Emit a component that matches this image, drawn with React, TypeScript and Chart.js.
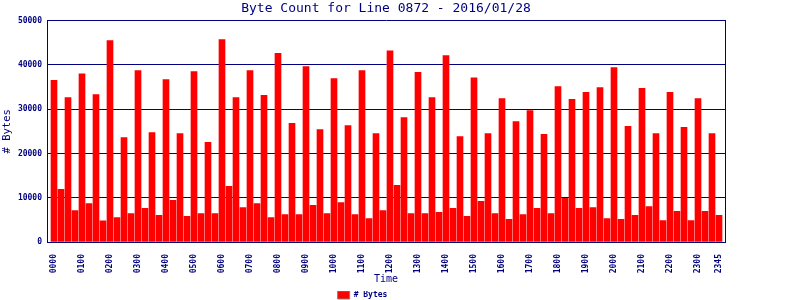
import { useEffect, useRef } from "react";
import { Chart, registerables } from "chart.js";

Chart.register(...registerables);

const TITLE = "Byte Count for Line 0872 - 2016/01/28";
const SERIES_NAME = "# Bytes";
const X_TITLE = "Time";
const Y_TITLE = "# Bytes";

const HOURS = [
  "00", "01", "02", "03", "04", "05", "06", "07", "08", "09", "10", "11",
  "12", "13", "14", "15", "16", "17", "18", "19", "20", "21", "22", "23",
];
const QUARTERS = ["00", "15", "30", "45"];
const TIME_LABELS = HOURS.flatMap((h) => QUARTERS.map((q) => h + q));

// one row per hour: :00, :15, :30, :45
const BYTES = [
  36500, 11900, 32600, 7100,
  38000, 8700, 33300, 4800,
  45500, 5500, 23600, 6400,
  38700, 7600, 24700, 6000,
  36700, 9400, 24500, 5800,
  38500, 6400, 22500, 6400,
  45700, 12600, 32600, 7800,
  38700, 8700, 33100, 5500,
  42600, 6200, 26800, 6200,
  39600, 8300, 25400, 6400,
  36900, 8900, 26300, 6200,
  38700, 5300, 24500, 7100,
  43200, 12800, 28100, 6400,
  38300, 6400, 32600, 6700,
  42100, 7600, 23800, 5800,
  37100, 9200, 24500, 6400,
  32400, 5100, 27200, 6200,
  29700, 7600, 24300, 6400,
  35100, 9850, 32200, 7600,
  33800, 7800, 34900, 5300,
  39400, 5100, 26100, 6000,
  34700, 8000, 24500, 4850,
  33800, 6900, 25900, 4850,
  32400, 6900, 24500, 6000,
];

// labelled ticks: every full hour, plus the last quarter
const X_TICK_INDEX = [
  0, 4, 8, 12, 16, 20, 24, 28, 32, 36, 40, 44,
  48, 52, 56, 60, 64, 68, 72, 76, 80, 84, 88, 92, 95,
];

const Y_MIN = 0;
const Y_MAX = 50000;
const Y_STEP = 10000;

const NAVY = "#000080";
const RED = "#ff0000";
const MONO = "'DejaVu Sans Mono', monospace";

export default function App() {
  const canvasRef = useRef<HTMLCanvasElement | null>(null);

  useEffect(() => {
    const canvas = canvasRef.current;
    if (!canvas) return;
    const tickFont = { family: MONO, size: 8, weight: "bold" as const };
    const points = BYTES.map((y, i) => ({ x: i, y }));
    const chart = new Chart(canvas, {
      type: "bar",
      data: {
        datasets: [
          {
            label: SERIES_NAME,
            data: points,
            backgroundColor: RED,
            borderWidth: 0,
            barThickness: 6,
          },
        ],
      },
      options: {
        responsive: false,
        animation: false,
        layout: { padding: { left: 0, right: 75, top: 0, bottom: 0 } },
        plugins: {
          title: {
            display: true,
            text: TITLE,
            fullSize: false,
            color: NAVY,
            font: { family: MONO, size: 13, weight: "normal" },
            padding: { top: 1, bottom: 4 },
          },
          legend: {
            position: "bottom",
            maxHeight: 9,
            labels: {
              boxWidth: 12,
              boxHeight: 8,
              padding: 0,
              color: NAVY,
              font: tickFont,
              generateLabels: (c: any) =>
                Chart.defaults.plugins.legend.labels
                  .generateLabels(c)
                  .map((l: any) => ({ ...l, strokeStyle: "#808080", lineWidth: 1 })),
            },
          },
          tooltip: { enabled: false },
        },
        scales: {
          x: {
            type: "linear",
            min: -1,
            max: TIME_LABELS.length - 1 + 6 / 7,
            offset: false,
            grid: { display: false },
            border: { color: NAVY, width: 1 },
            afterBuildTicks: (s: any) => {
              s.ticks = X_TICK_INDEX.map((v) => ({ value: v }));
            },
            ticks: {
              autoSkip: false,
              maxRotation: 90,
              minRotation: 90,
              padding: 4,
              color: NAVY,
              font: tickFont,
              callback: (v: any) => TIME_LABELS[v] ?? "",
            },
            title: {
              display: true,
              text: X_TITLE,
              color: NAVY,
              font: { family: MONO, size: 10, weight: "normal" },
              padding: { top: 0, bottom: 6 },
            },
            afterFit: (s: any) => {
              s.height = 49;
            },
          },
          y: {
            min: Y_MIN,
            max: Y_MAX,
            ticks: {
              stepSize: Y_STEP,
              padding: 5,
              color: NAVY,
              font: tickFont,
              callback: (v: any) => String(v),
            },
            grid: { color: NAVY, lineWidth: 1, drawTicks: false },
            border: { color: NAVY, width: 1 },
            title: {
              display: true,
              text: Y_TITLE,
              color: NAVY,
              font: { family: MONO, size: 10.5, weight: "normal" },
              padding: { top: 1, bottom: 0 },
            },
            afterFit: (s: any) => {
              s.width = 47;
            },
          },
          yRight: {
            position: "right",
            min: Y_MIN,
            max: Y_MAX,
            grid: { display: false, drawTicks: false },
            ticks: { display: false },
            border: { color: NAVY, width: 1 },
            afterFit: (s: any) => {
              s.width = 0;
            },
          },
        },
      } as any,
    });
    return () => chart.destroy();
  }, []);

  return (
    <div style={{ position: "absolute", left: 0, top: 0, width: 800, height: 300, background: "#fff" }}>
      <canvas ref={canvasRef} width={800} height={300} style={{ display: "block" }} />
    </div>
  );
}
